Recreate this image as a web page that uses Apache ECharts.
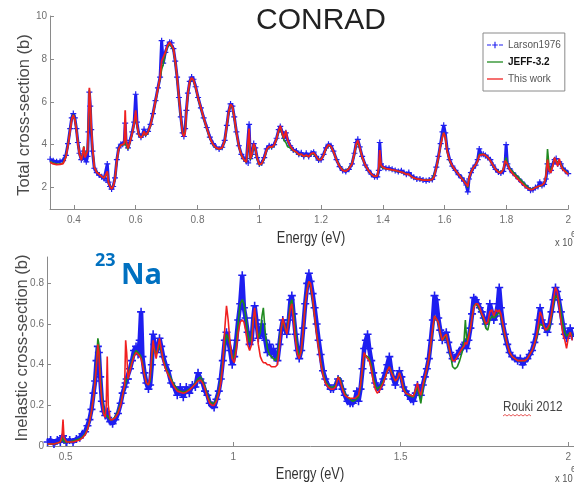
<!DOCTYPE html>
<html>
<head>
<meta charset="utf-8">
<script src="https://cdn.jsdelivr.net/npm/echarts@6/dist/echarts.min.js"></script>
<style>
  html, body { margin: 0; padding: 0; background: #fff; }
  #chart { width: 574px; height: 485px; }
</style>
</head>
<body>
<div id="chart"></div>
<script>
// ---- Total cross-section panel (energies in units of 1e6 eV) ----
const totalEnergy = [
  0.323,0.333,0.344,0.355,0.365,0.374,0.381,0.388,0.393,0.398,
  0.403,0.408,0.413,0.418,0.424,0.428,0.432,0.436,0.440,0.444,
  0.447,0.450,0.453,0.456,0.460,0.466,0.474,0.482,0.490,0.498,
  0.504,0.508,0.512,0.517,0.522,0.527,0.533,0.539,0.545,0.552,
  0.558,0.563,0.566,0.569,0.575,0.582,0.589,0.595,0.600,0.604,
  0.610,0.617,0.622,0.627,0.632,0.640,0.648,0.656,0.664,0.672,
  0.679,0.684,0.689,0.696,0.703,0.710,0.716,0.722,0.728,0.734,
  0.740,0.746,0.752,0.756,0.760,0.764,0.769,0.775,0.781,0.787,
  0.794,0.802,0.811,0.820,0.830,0.840,0.850,0.860,0.870,0.880,
  0.888,0.895,0.901,0.907,0.913,0.919,0.926,0.934,0.942,0.950,
  0.958,0.964,0.967,0.971,0.976,0.982,0.987,0.993,1.000,1.008,
  1.016,1.024,1.032,1.040,1.048,1.056,1.063,1.068,1.074,1.080,
  1.086,1.092,1.100,1.110,1.120,1.128,1.136,1.144,1.152,1.160,
  1.168,1.176,1.184,1.192,1.200,1.208,1.216,1.224,1.232,1.240,
  1.250,1.260,1.270,1.280,1.290,1.300,1.308,1.314,1.319,1.325,
  1.333,1.343,1.353,1.363,1.373,1.382,1.387,1.390,1.394,1.400,
  1.410,1.420,1.430,1.440,1.450,1.460,1.468,1.476,1.484,1.492,
  1.500,1.510,1.520,1.530,1.540,1.550,1.560,1.566,1.573,1.580,
  1.587,1.593,1.597,1.602,1.608,1.616,1.625,1.635,1.645,1.655,
  1.663,1.670,1.675,1.679,1.685,1.692,1.700,1.707,1.712,1.718,
  1.725,1.732,1.740,1.748,1.756,1.765,1.774,1.782,1.790,1.796,
  1.799,1.803,1.810,1.820,1.830,1.840,1.850,1.860,1.870,1.878,
  1.886,1.894,1.902,1.908,1.915,1.922,1.928,1.933,1.938,1.944,
  1.950,1.956,1.961,1.966,1.971,1.976,1.982,1.990,2.000
];
const totalLarson = [
  3.32,3.25,3.20,3.22,3.26,3.50,4.05,4.75,5.25,5.45,
  5.25,4.75,4.10,3.60,3.30,3.40,3.70,3.35,3.20,3.45,
  4.60,6.45,5.80,4.70,3.70,2.90,2.70,2.58,2.50,2.42,
  2.35,3.10,2.25,2.05,1.93,2.05,2.45,3.30,3.85,4.02,
  4.02,4.10,5.00,4.10,3.85,4.20,4.60,5.05,6.35,5.05,
  4.50,4.35,4.45,4.72,4.48,4.62,4.95,5.45,6.05,6.65,
  7.15,8.85,7.80,8.30,8.62,8.78,8.75,8.48,7.90,7.15,
  6.20,5.30,4.55,4.38,4.75,5.60,6.40,6.95,7.15,7.05,
  6.70,6.20,5.72,5.25,4.80,4.35,4.05,3.88,3.80,3.88,
  4.20,4.90,5.55,5.90,5.80,5.30,4.60,3.95,3.55,3.35,
  3.22,3.15,4.95,3.35,3.55,4.05,3.85,3.40,3.10,3.15,
  3.40,3.80,3.95,3.90,4.00,4.30,4.70,4.85,4.60,4.30,
  4.55,4.20,3.95,3.75,3.70,3.55,3.62,3.45,3.60,3.45,
  3.60,3.65,3.45,3.28,3.30,3.55,3.85,4.02,3.95,3.70,
  3.30,2.98,2.80,2.75,2.85,3.10,3.60,4.10,4.25,3.90,
  3.45,3.05,2.80,2.62,2.50,2.50,2.80,4.10,3.10,2.95,
  2.90,2.90,2.85,2.80,2.75,2.78,2.70,2.62,2.70,2.55,
  2.48,2.40,2.40,2.35,2.32,2.35,2.38,2.55,2.95,3.45,
  4.05,4.60,4.90,4.55,3.80,3.30,3.00,2.80,2.60,2.45,
  2.30,2.12,1.80,2.40,2.70,2.90,3.05,3.30,3.80,3.55,
  3.55,3.50,3.40,3.30,3.05,2.85,2.72,2.68,2.75,3.20,
  4.00,3.10,2.88,2.70,2.55,2.40,2.25,2.10,1.98,1.88,
  1.90,2.00,2.05,2.25,2.10,2.15,2.40,3.10,2.75,2.80,
  3.10,3.30,3.35,3.10,3.20,3.10,2.90,2.80,2.65
];
const totalJeff = [
  3.22,3.14,3.10,3.10,3.14,3.45,4.00,4.70,5.20,5.40,
  5.20,4.72,4.08,3.58,3.32,3.50,3.92,3.45,3.40,3.75,
  4.90,6.55,5.90,4.80,3.85,2.95,2.72,2.62,2.52,2.45,
  2.38,2.70,2.25,2.08,1.95,2.05,2.40,3.25,3.82,3.98,
  4.00,4.00,4.60,3.95,3.78,4.15,4.55,5.00,5.30,4.90,
  4.45,4.32,4.42,4.62,4.42,4.58,4.90,5.40,6.00,6.60,
  7.08,7.50,7.75,8.25,8.55,8.70,8.68,8.42,7.85,7.10,
  6.15,5.25,4.55,4.45,4.60,5.50,6.35,6.90,7.10,7.00,
  6.65,6.15,5.70,5.22,4.75,4.30,4.00,3.85,3.78,3.85,
  4.15,4.85,5.50,5.85,5.75,5.25,4.55,3.92,3.50,3.30,
  3.18,3.12,4.40,3.30,3.50,4.00,3.80,3.35,3.05,3.10,
  3.35,3.75,3.90,3.85,3.95,4.25,4.65,4.75,4.50,4.20,
  4.10,3.90,3.85,3.72,3.65,3.52,3.55,3.45,3.50,3.45,
  3.55,3.58,3.45,3.30,3.32,3.50,3.80,3.98,3.90,3.68,
  3.30,3.00,2.82,2.78,2.90,3.12,3.55,4.00,4.10,3.85,
  3.40,3.05,2.80,2.62,2.52,2.55,2.90,3.50,3.00,2.90,
  2.88,2.85,2.82,2.78,2.75,2.72,2.68,2.62,2.62,2.52,
  2.45,2.40,2.38,2.35,2.35,2.35,2.38,2.45,2.90,3.40,
  4.00,4.40,4.55,4.40,3.70,3.25,2.98,2.80,2.62,2.45,
  2.30,2.15,2.00,2.45,2.72,2.90,3.05,3.25,3.55,3.55,
  3.55,3.50,3.40,3.25,3.05,2.85,2.75,2.70,2.85,3.20,
  3.40,3.10,2.90,2.75,2.60,2.45,2.30,2.15,2.00,1.92,
  1.95,2.00,2.05,2.10,2.10,2.20,2.50,3.80,3.00,2.75,
  3.05,3.35,3.40,3.15,3.25,3.10,2.88,2.78,2.65
];
const totalThisWork = [
  3.18,3.10,3.07,3.08,3.12,3.42,3.98,4.68,5.18,5.38,
  5.15,4.70,4.05,3.55,3.28,3.52,3.90,3.40,3.38,3.70,
  5.00,6.65,6.00,4.90,3.90,2.95,2.70,2.62,2.52,2.45,
  2.38,2.75,2.22,2.05,1.93,2.05,2.40,3.25,3.80,3.98,
  4.00,4.05,5.60,4.20,3.82,4.15,4.55,5.00,5.60,4.95,
  4.45,4.32,4.42,4.62,4.44,4.60,4.92,5.42,6.02,6.62,
  7.15,7.90,7.85,8.30,8.62,8.78,8.75,8.48,7.90,7.15,
  6.20,5.30,4.50,4.38,4.55,5.55,6.40,6.95,7.12,7.02,
  6.68,6.18,5.72,5.25,4.78,4.32,4.02,3.86,3.80,3.86,
  4.18,4.88,5.52,5.88,5.78,5.28,4.58,3.92,3.52,3.30,
  3.18,3.12,4.75,3.35,3.55,4.05,3.85,3.38,3.08,3.12,
  3.38,3.78,3.92,3.88,3.98,4.28,4.68,4.88,4.55,4.30,
  4.65,4.20,3.95,3.74,3.66,3.54,3.56,3.46,3.52,3.44,
  3.58,3.62,3.46,3.30,3.30,3.50,3.82,4.00,3.92,3.68,
  3.28,2.98,2.80,2.76,2.88,3.10,3.58,4.05,4.20,3.88,
  3.42,3.05,2.80,2.62,2.52,2.55,2.95,3.75,3.05,2.95,
  2.88,2.86,2.82,2.80,2.76,2.72,2.68,2.62,2.62,2.52,
  2.45,2.40,2.38,2.35,2.35,2.35,2.38,2.50,2.92,3.42,
  4.00,4.35,4.55,4.35,3.70,3.28,3.00,2.80,2.62,2.42,
  2.28,2.15,2.05,2.45,2.70,2.90,3.05,3.25,3.50,3.55,
  3.55,3.50,3.40,3.25,3.05,2.85,2.72,2.68,2.85,3.25,
  3.30,3.10,2.85,2.65,2.50,2.35,2.20,2.05,1.95,1.90,
  1.92,2.00,2.05,2.10,2.12,2.20,2.55,3.30,2.80,2.70,
  3.00,3.40,3.45,3.00,3.35,3.05,2.85,2.75,2.62
];

// ---- Inelastic cross-section panel ----
const inelEnergy = [
  0.446,0.455,0.465,0.475,0.484,0.489,0.492,0.495,0.503,0.512,
  0.522,0.532,0.542,0.550,0.558,0.565,0.571,0.577,0.583,0.588,
  0.592,0.596,0.599,0.603,0.608,0.613,0.618,0.621,0.624,0.627,
  0.633,0.640,0.648,0.656,0.664,0.670,0.676,0.679,0.682,0.686,
  0.692,0.698,0.704,0.710,0.716,0.721,0.725,0.729,0.735,0.741,
  0.747,0.752,0.757,0.761,0.765,0.770,0.775,0.780,0.785,0.791,
  0.798,0.806,0.815,0.824,0.833,0.842,0.851,0.860,0.869,0.878,
  0.887,0.895,0.902,0.909,0.916,0.923,0.930,0.937,0.943,0.950,
  0.957,0.963,0.969,0.975,0.980,0.985,0.991,0.997,1.003,1.009,
  1.015,1.021,1.027,1.032,1.037,1.043,1.049,1.055,1.060,1.064,
  1.069,1.075,1.081,1.086,1.090,1.096,1.102,1.108,1.114,1.120,
  1.126,1.132,1.138,1.143,1.148,1.154,1.160,1.166,1.171,1.175,
  1.180,1.186,1.192,1.197,1.203,1.209,1.215,1.221,1.226,1.231,
  1.237,1.243,1.249,1.255,1.261,1.268,1.275,1.283,1.291,1.299,
  1.306,1.313,1.319,1.326,1.333,1.341,1.349,1.357,1.364,1.369,
  1.374,1.380,1.386,1.391,1.396,1.401,1.406,1.412,1.418,1.424,
  1.430,1.436,1.442,1.448,1.454,1.460,1.466,1.472,1.478,1.484,
  1.490,1.496,1.502,1.508,1.515,1.522,1.530,1.538,1.545,1.550,
  1.555,1.560,1.566,1.572,1.578,1.584,1.590,1.596,1.601,1.606,
  1.612,1.618,1.624,1.630,1.636,1.642,1.648,1.655,1.662,1.669,
  1.676,1.683,1.689,1.693,1.697,1.702,1.708,1.713,1.718,1.724,
  1.730,1.736,1.742,1.748,1.754,1.760,1.766,1.772,1.778,1.784,
  1.790,1.794,1.799,1.805,1.811,1.818,1.825,1.833,1.841,1.849,
  1.857,1.864,1.871,1.878,1.885,1.892,1.899,1.905,1.911,1.916,
  1.921,1.926,1.932,1.938,1.944,1.950,1.956,1.962,1.967,1.972,
  1.978,1.984,1.990,1.995,2.000,2.006,2.012
];
const inelRouki = [
  0.02,0.03,0.01,0.03,0.02,0.04,0.05,0.03,0.02,0.03,
  0.02,0.035,0.04,0.06,0.07,0.10,0.13,0.18,0.26,0.32,
  0.42,0.49,0.46,0.34,0.22,0.17,0.15,0.16,0.17,0.14,
  0.12,0.11,0.13,0.16,0.21,0.26,0.29,0.31,0.33,0.33,
  0.38,0.42,0.47,0.49,0.45,0.52,0.66,0.44,0.36,0.31,
  0.28,0.30,0.40,0.55,0.50,0.46,0.48,0.53,0.49,0.44,
  0.40,0.37,0.31,0.29,0.25,0.29,0.24,0.29,0.26,0.30,
  0.29,0.36,0.33,0.31,0.27,0.25,0.21,0.20,0.19,0.23,
  0.27,0.33,0.42,0.52,0.56,0.52,0.47,0.40,0.44,0.52,
  0.62,0.70,0.84,0.68,0.63,0.56,0.50,0.52,0.63,0.69,
  0.62,0.53,0.55,0.60,0.55,0.52,0.46,0.50,0.45,0.48,
  0.44,0.42,0.50,0.57,0.62,0.58,0.55,0.62,0.72,0.74,
  0.65,0.55,0.47,0.43,0.47,0.58,0.70,0.80,0.85,0.81,
  0.75,0.68,0.60,0.52,0.45,0.37,0.33,0.30,0.28,0.28,
  0.30,0.33,0.32,0.28,0.25,0.22,0.21,0.21,0.23,0.27,
  0.22,0.28,0.38,0.48,0.52,0.55,0.48,0.42,0.36,0.31,
  0.29,0.28,0.30,0.33,0.36,0.40,0.44,0.37,0.33,0.30,
  0.34,0.37,0.34,0.29,0.27,0.25,0.23,0.22,0.26,0.30,
  0.27,0.25,0.30,0.34,0.38,0.43,0.52,0.62,0.74,0.72,
  0.63,0.57,0.52,0.54,0.56,0.51,0.46,0.43,0.43,0.45,
  0.47,0.48,0.50,0.51,0.48,0.52,0.58,0.65,0.73,0.72,
  0.70,0.68,0.66,0.63,0.60,0.62,0.70,0.66,0.62,0.64,
  0.70,0.78,0.68,0.60,0.55,0.50,0.46,0.44,0.43,0.42,
  0.43,0.40,0.42,0.43,0.45,0.47,0.51,0.55,0.62,0.68,
  0.62,0.60,0.58,0.56,0.60,0.66,0.72,0.78,0.76,0.72,
  0.66,0.60,0.55,0.53,0.56,0.58,0.54
];
const inelJeff = [
  0.01,0.01,0.01,0.015,0.02,0.03,0.04,0.02,0.02,0.02,
  0.025,0.03,0.035,0.045,0.06,0.085,0.12,0.17,0.24,0.33,
  0.42,0.53,0.50,0.35,0.24,0.18,0.15,0.15,0.15,0.14,
  0.13,0.13,0.145,0.17,0.21,0.25,0.29,0.31,0.33,0.34,
  0.38,0.42,0.45,0.47,0.46,0.45,0.44,0.41,0.36,0.31,
  0.30,0.32,0.42,0.50,0.48,0.45,0.47,0.50,0.47,0.43,
  0.39,0.36,0.33,0.30,0.28,0.27,0.265,0.27,0.28,0.29,
  0.31,0.33,0.34,0.32,0.29,0.25,0.22,0.21,0.21,0.23,
  0.27,0.33,0.42,0.50,0.55,0.53,0.49,0.43,0.44,0.50,
  0.61,0.70,0.72,0.70,0.64,0.56,0.51,0.54,0.63,0.66,
  0.60,0.53,0.56,0.64,0.68,0.55,0.48,0.45,0.44,0.43,
  0.42,0.44,0.52,0.58,0.62,0.58,0.56,0.64,0.70,0.72,
  0.66,0.56,0.48,0.44,0.46,0.57,0.70,0.78,0.81,0.79,
  0.72,0.64,0.56,0.49,0.42,0.36,0.32,0.30,0.29,0.29,
  0.30,0.34,0.33,0.29,0.26,0.24,0.23,0.22,0.225,0.23,
  0.24,0.29,0.38,0.45,0.45,0.44,0.43,0.40,0.34,0.30,
  0.28,0.29,0.30,0.32,0.34,0.37,0.39,0.37,0.34,0.32,
  0.33,0.36,0.33,0.29,0.265,0.25,0.245,0.24,0.27,0.29,
  0.25,0.21,0.28,0.33,0.38,0.43,0.50,0.58,0.64,0.64,
  0.61,0.56,0.52,0.53,0.55,0.50,0.45,0.39,0.38,0.39,
  0.42,0.46,0.52,0.62,0.52,0.54,0.58,0.63,0.69,0.70,
  0.69,0.67,0.65,0.62,0.58,0.57,0.62,0.64,0.63,0.64,
  0.65,0.66,0.64,0.59,0.54,0.50,0.46,0.44,0.43,0.42,
  0.42,0.42,0.42,0.43,0.45,0.47,0.50,0.53,0.57,0.60,
  0.60,0.59,0.58,0.57,0.58,0.64,0.70,0.74,0.74,0.72,
  0.66,0.60,0.56,0.54,0.55,0.56,0.54
];
const inelThisWork = [
  0.01,0.01,0.01,0.015,0.02,0.05,0.13,0.04,0.02,0.02,
  0.02,0.025,0.03,0.04,0.055,0.08,0.12,0.17,0.24,0.32,
  0.40,0.50,0.46,0.32,0.22,0.16,0.14,0.20,0.44,0.20,
  0.13,0.13,0.14,0.16,0.20,0.25,0.30,0.52,0.46,0.33,
  0.37,0.41,0.44,0.46,0.45,0.44,0.43,0.40,0.35,0.31,
  0.30,0.34,0.45,0.52,0.47,0.43,0.48,0.53,0.48,0.42,
  0.38,0.35,0.32,0.29,0.27,0.265,0.26,0.265,0.275,0.29,
  0.305,0.32,0.325,0.31,0.28,0.24,0.21,0.20,0.20,0.22,
  0.26,0.31,0.40,0.58,0.69,0.62,0.50,0.43,0.41,0.47,
  0.56,0.61,0.62,0.61,0.57,0.50,0.47,0.50,0.62,0.68,
  0.60,0.50,0.44,0.42,0.41,0.41,0.40,0.40,0.39,0.39,
  0.39,0.40,0.48,0.57,0.63,0.59,0.55,0.62,0.68,0.70,
  0.62,0.52,0.45,0.43,0.47,0.57,0.70,0.77,0.81,0.80,
  0.73,0.64,0.55,0.48,0.41,0.35,0.31,0.29,0.28,0.28,
  0.29,0.34,0.32,0.28,0.25,0.24,0.235,0.235,0.235,0.24,
  0.25,0.30,0.39,0.46,0.44,0.43,0.42,0.38,0.32,0.28,
  0.26,0.27,0.29,0.31,0.34,0.37,0.39,0.36,0.34,0.32,
  0.33,0.36,0.33,0.28,0.26,0.255,0.25,0.245,0.28,0.31,
  0.27,0.25,0.30,0.34,0.38,0.43,0.51,0.59,0.64,0.64,
  0.61,0.56,0.52,0.54,0.55,0.50,0.46,0.42,0.42,0.44,
  0.46,0.48,0.49,0.51,0.50,0.53,0.58,0.63,0.68,0.70,
  0.70,0.68,0.65,0.63,0.60,0.61,0.66,0.67,0.64,0.67,
  0.66,0.67,0.65,0.60,0.55,0.50,0.46,0.44,0.43,0.42,
  0.42,0.42,0.42,0.43,0.45,0.47,0.50,0.54,0.60,0.66,
  0.64,0.60,0.57,0.58,0.60,0.65,0.72,0.78,0.76,0.70,
  0.62,0.55,0.52,0.48,0.53,0.56,0.52
];

// ---- tick positions ----
const totalXTicks = [0.4, 0.6, 0.8, 1, 1.2, 1.4, 1.6, 1.8, 2];
const totalYTicks = [2, 4, 6, 8, 10];
const inelXTicks = [0.5, 1, 1.5, 2];
const inelYTicks = [0, 0.2, 0.4, 0.6, 0.8];

const seriesNames = ['Larson1976', 'JEFF-3.2', 'This work'];

function pairs(xs, ys) {
  const n = Math.min(xs.length, ys.length);
  const out = [];
  for (let i = 0; i < n; i++) out.push([xs[i], ys[i]]);
  return out;
}

const BLUE = '#1e1ef0';
const GREEN = '#1f8a1f';
const RED = '#f02020';
const PLUS = 'path://M4,0h2v10h-2z M0,4h10v2h-10z';
// legend glyphs: dashed line with a plus, and a plain line
const ICON_DASH_PLUS = 'path://M0,4.3h5v1.4h-5z M7,4.3h6v1.4h-6z M15,4.3h5v1.4h-5z M9.3,1h1.4v8h-1.4z M6.5,4.3h7v1.4h-7z';
const ICON_LINE = 'path://M0,4.2h20v1.6h-20z';
const SANS = '"Liberation Sans", Arial, sans-serif';

function axisCommon() {
  return {
    axisLine: { show: true, onZero: false, lineStyle: { color: '#8a8a8a', width: 1 } },
    axisTick: { show: true, inside: true, length: 4, lineStyle: { color: '#8a8a8a' } },
    splitLine: { show: false },
    axisLabel: { color: '#707070', fontFamily: SANS, fontSize: 10 }
  };
}

function makeAxis(grid, min, max, ticks, margin) {
  const a = axisCommon();
  a.type = 'value'; a.gridIndex = grid; a.min = min; a.max = max;
  a.axisTick.customValues = ticks;
  a.axisLabel.customValues = ticks;
  a.axisLabel.margin = margin;
  a.axisLabel.formatter = v => String(v);
  return a;
}

function blueSeries(idx, data, size, width) {
  return {
    name: seriesNames[0], type: 'line', xAxisIndex: idx, yAxisIndex: idx,
    data: data, symbol: PLUS, symbolSize: size, showSymbol: true,
    itemStyle: { color: BLUE }, lineStyle: { color: BLUE, width: width },
    animation: false, z: 2
  };
}
function lineSeries(idx, nameIdx, color, data, z, width) {
  return {
    name: seriesNames[nameIdx], type: 'line', xAxisIndex: idx, yAxisIndex: idx,
    data: data, showSymbol: false, symbol: 'none',
    itemStyle: { color: color }, lineStyle: { color: color, width: width },
    animation: false, z: z
  };
}

function label(x, y, text, size, opts) {
  const o = opts || {};
  return {
    type: 'text', x: x, y: y, rotation: o.rotation || 0,
    scaleX: o.scaleX || 1, scaleY: 1,
    style: {
      text: text, font: (o.weight ? o.weight + ' ' : '') + size + 'px ' + (o.family || SANS),
      fill: o.fill || '#333', align: o.align || 'center', verticalAlign: 'middle'
    }
  };
}

const squiggle = [[503,416],[505,414.5],[507,416],[509,414.5],[511,416],[513,414.5],[515,416],
                  [517,414.5],[519,416],[521,414.5],[523,416],[525,414.5],[527,416],[529,414.5],[531,416]];

const chart = echarts.init(document.getElementById('chart'), null, { renderer: 'canvas' });

chart.setOption({
  backgroundColor: '#ffffff',
  animation: false,
  grid: [
    { left: 50, top: 16, width: 526, height: 193 },
    { left: 47, top: 257, width: 527, height: 189 }
  ],
  xAxis: [
    makeAxis(0, 0.3226, 2.0, totalXTicks, 6),
    makeAxis(1, 0.4442, 2.017, inelXTicks, 6)
  ],
  yAxis: [
    makeAxis(0, 1, 10, totalYTicks, 3),
    makeAxis(1, 0, 0.93, inelYTicks, 3)
  ],
  legend: {
    orient: 'vertical', left: 483, top: 33,
    padding: [7, 4, 7, 4], itemGap: 7, itemWidth: 16, itemHeight: 9,
    backgroundColor: '#ffffff', borderColor: '#8a8a8a', borderWidth: 1,
    textStyle: { fontFamily: SANS, fontSize: 10, color: '#555' },
    data: [
      { name: 'Larson1976', icon: ICON_DASH_PLUS },
      { name: 'JEFF-3.2', icon: ICON_LINE, textStyle: { fontWeight: 'bold', color: '#111', fontSize: 10 } },
      { name: 'This work', icon: ICON_LINE }
    ]
  },
  series: [
    blueSeries(0, pairs(totalEnergy, totalLarson), 6, 3),
    lineSeries(0, 1, GREEN, pairs(totalEnergy, totalJeff), 3, 1.6),
    lineSeries(0, 2, RED, pairs(totalEnergy, totalThisWork), 4, 1.8),
    blueSeries(1, pairs(inelEnergy, inelRouki), 8, 4.5),
    lineSeries(1, 1, GREEN, pairs(inelEnergy, inelJeff), 3, 1.6),
    lineSeries(1, 2, RED, pairs(inelEnergy, inelThisWork), 4, 1.6)
  ],
  graphic: [
    label(321, 21, 'CONRAD', 30, { fill: '#222' }),
    label(24, 115, 'Total cross-section (b)', 16.5, { rotation: Math.PI / 2, fill: '#4a4a4a' }),
    label(22, 348, 'Inelastic cross-section (b)', 16.5, { rotation: Math.PI / 2, fill: '#4a4a4a' }),
    label(311, 239, 'Energy (eV)', 16, { scaleX: 0.8, fill: '#333' }),
    label(310, 475, 'Energy (eV)', 16, { scaleX: 0.8, fill: '#333' }),
    label(555, 243, 'x 10', 11, { align: 'left', scaleX: 0.85, fill: '#555' }),
    label(571, 235, '6', 9, { align: 'left', fill: '#555' }),
    label(555, 479, 'x 10', 11, { align: 'left', scaleX: 0.85, fill: '#555' }),
    label(571, 470, '6', 9, { align: 'left', fill: '#555' }),
    label(95, 261, '23', 18, { align: 'left', weight: 'bold', family: '"Open Sans", "Noto Sans", sans-serif', fill: '#0070c0' }),
    label(121, 276, 'Na', 29, { align: 'left', weight: 'bold', family: '"Open Sans", "Noto Sans", sans-serif', fill: '#0070c0' }),
    label(503, 407, 'Rouki 2012', 14, { align: 'left', scaleX: 0.84, fill: '#444' }),
    { type: 'polyline', shape: { points: squiggle }, style: { stroke: '#e03030', lineWidth: 0.8, fill: null } }
  ]
});
</script>
</body>
</html>
